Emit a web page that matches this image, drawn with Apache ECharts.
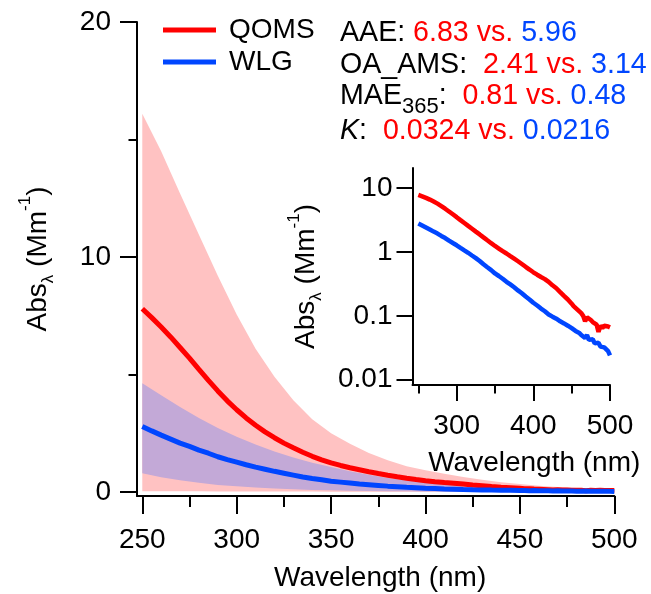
<!DOCTYPE html>
<html><head><meta charset="utf-8">
<script src="https://cdn.jsdelivr.net/npm/echarts@6/dist/echarts.min.js"></script>
<style>html,body{margin:0;padding:0;background:#fff}#c{width:651px;height:594px}</style>
</head><body><div id="c"></div>
<script>
// ---- data ----
const wavelength = [250,255,260,265,270,275,280,285,290,295,300,305,310,315,320,325,330,335,340,345,350,355,360,365,370,375,380,385,390,395,400,405,410,415,420,425,430,435,440,445,450,452.5,455,457.5,460,462.5,465,467.5,470,472.5,475,477.5,480,482.5,485,487.5,490,492.5,495,497.5,500];
const qomsMean = [7.8,7.42,7.02,6.6,6.15,5.7,5.22,4.75,4.3,3.88,3.5,3.15,2.84,2.56,2.31,2.08,1.88,1.69,1.52,1.37,1.24,1.13,1.03,0.945,0.86,0.785,0.715,0.648,0.585,0.53,0.48,0.44,0.405,0.375,0.34,0.3,0.27,0.235,0.205,0.18,0.155,0.142,0.135,0.125,0.118,0.11,0.1,0.082,0.095,0.09,0.086,0.08,0.076,0.073,0.056,0.07,0.064,0.07,0.066,0.068,0.066];
const wlgMean = [2.79,2.6,2.42,2.25,2.08,1.94,1.78,1.65,1.5,1.38,1.27,1.16,1.06,0.97,0.88,0.8,0.72,0.64,0.575,0.52,0.46,0.42,0.38,0.34,0.31,0.28,0.25,0.225,0.2,0.18,0.16,0.145,0.13,0.118,0.105,0.097,0.09,0.082,0.076,0.07,0.064,0.062,0.058,0.06,0.054,0.05,0.052,0.045,0.05,0.042,0.04,0.043,0.037,0.036,0.038,0.033,0.035,0.032,0.033,0.028,0.024];
const bandWavelength = [250,260,270,280,290,300,310,320,330,340,350,360,370,380,390,400,410,420,430,440,450,460,470,480,490,500];
const qomsUpper = [16.1,14.5,12.7,10.95,9.2,7.55,6.1,4.9,3.9,3.1,2.5,2.05,1.66,1.35,1.1,0.93,0.78,0.64,0.52,0.42,0.34,0.27,0.21,0.17,0.14,0.12];
const qomsLower = [0.03,0.03,0.03,0.03,0.025,0.025,0.02,0.02,0.02,0.02,0.015,0.015,0.015,0.015,0.01,0.01,0.01,0.01,0.01,0.01,0.008,0.008,0.008,0.008,0.008,0.008];
const wlgUpper = [4.63,4.12,3.62,3.15,2.72,2.35,2.02,1.72,1.47,1.25,1.06,0.88,0.73,0.6,0.49,0.41,0.34,0.28,0.23,0.19,0.16,0.13,0.11,0.09,0.075,0.06];
const wlgLower = [0.8,0.63,0.5,0.39,0.3,0.24,0.19,0.15,0.12,0.09,0.07,0.055,0.045,0.036,0.03,0.025,0.021,0.018,0.015,0.013,0.011,0.01,0.009,0.008,0.007,0.006];
const seriesNames = ['QOMS','WLG'];
const mainXTicks = [250,300,350,400,450,500];
const mainXMinor = [275,325,375,425,475];
const mainYTicks = [0,10,20];
const mainYMinor = [5,15];
const insetXTicks = [300,400,500];
const insetXMinor = [250,350,450];
const insetYTicks = [0.01,0.1,1,10];
const statLabels = ['AAE','OA_AMS','MAE','K'];
const statSub = ['','','365',''];
const qomsStats = ['6.83','2.41','0.81','0.0324'];
const wlgStats = ['5.96','3.14','0.48','0.0216'];

// ---- styling ----
const F = '"Liberation Sans", Arial, sans-serif';
const RED = '#FF0000', BLUE = '#0046FF', PINK = '#FFC2C2', PURPLE = '#C3A9D7';
const black = '#000';
const lineSt = {color: black, width: 2};
const pairs = (xs, ys) => xs.map((x, i) => [x, ys[i]]);

const nameRich = {
  m: {fontSize: 28, fontFamily: F, color: black, lineHeight: 28},
  sub: {fontSize: 17, fontFamily: F, color: black, lineHeight: 17, padding: [20, 0, 0, 0]},
  sup: {fontSize: 17, fontFamily: F, color: black, lineHeight: 17, padding: [0, 0, 25, 0]}
};
const yName = '{m|Abs}{sub|λ}{m| (Mm}{sup|-1}{m|)}';

function xAxisPair(grid, min, ticks, minor, lenMaj, lenMin, margin, nameGap, namePad) {
  return [
    {gridIndex: grid, type: 'value', min: min, max: 500, position: 'bottom',
     axisLine: {show: true, onZero: false, lineStyle: lineSt},
     axisTick: {show: true, customValues: ticks, length: lenMaj, lineStyle: lineSt},
     axisLabel: {show: true, customValues: ticks, fontSize: 28, fontFamily: F, color: black, margin: margin},
     splitLine: {show: false},
     name: 'Wavelength (nm)', nameLocation: 'middle', nameGap: nameGap,
     nameTextStyle: {fontSize: 28, fontFamily: F, color: black, padding: namePad}},
    {gridIndex: grid, type: 'value', min: min, max: 500, position: 'bottom',
     axisLine: {show: false, onZero: false},
     axisTick: {show: true, customValues: minor, length: lenMin, lineStyle: lineSt},
     axisLabel: {show: false}, splitLine: {show: false}}
  ];
}

const xAxes = [].concat(
  xAxisPair(0, 247.2, mainXTicks, mainXMinor, 18, 11, 30, 68, [0, 0, 0, 9]),
  xAxisPair(1, 242.4, insetXTicks, insetXMinor, 16, 8.5, 27, 64, [0, 0, 0, 46])
);

const yAxes = [
  {gridIndex: 0, type: 'value', min: -0.17, max: 20, position: 'left',
   axisLine: {show: true, onZero: false, lineStyle: lineSt},
   axisTick: {show: true, customValues: mainYTicks, length: 17, lineStyle: lineSt},
   axisLabel: {show: true, customValues: mainYTicks, fontSize: 28, fontFamily: F, color: black, margin: 26},
   splitLine: {show: false},
   name: yName, nameLocation: 'middle', nameGap: 85,
   nameTextStyle: {rich: nameRich}},
  {gridIndex: 0, type: 'value', min: -0.17, max: 20, position: 'left',
   axisLine: {show: false, onZero: false},
   axisTick: {show: true, customValues: mainYMinor, length: 8.5, lineStyle: lineSt},
   axisLabel: {show: false}, splitLine: {show: false}},
  {gridIndex: 1, type: 'log', logBase: 10, min: 0.00826, max: 20.6, position: 'left',
   axisLine: {show: true, onZero: false, lineStyle: lineSt},
   axisTick: {show: true, customValues: insetYTicks, length: 16, lineStyle: lineSt},
   axisLabel: {show: true, customValues: insetYTicks, fontSize: 28, fontFamily: F, color: black, margin: 20},
   splitLine: {show: false},
   name: yName, nameLocation: 'middle', nameGap: 92,
   nameTextStyle: {rich: nameRich}}
];

// shaded band drawn as one polygon through the axis scales
const bandSeries = (lower, upper, color) => ({
  type: 'custom', xAxisIndex: 0, yAxisIndex: 0, silent: true, z: 1, clip: true,
  data: bandWavelength.map((x, i) => [x, lower[i], upper[i]]),
  encode: {x: 0, y: [1, 2]},
  renderItem: (params, api) => {
    if (params.dataIndex !== 0) return null;
    const top = [], bot = [];
    for (let i = 0; i < bandWavelength.length; i++) {
      top.push(api.coord([bandWavelength[i], upper[i]]));
      bot.push(api.coord([bandWavelength[i], lower[i]]));
    }
    return {type: 'polygon', shape: {points: top.concat(bot.reverse())}, style: {fill: color}};
  }
});

const meanSeries = (name, ys, color, xi, yi, w) => ({
  name: name, type: 'line', xAxisIndex: xi, yAxisIndex: yi, data: pairs(wavelength, ys),
  symbol: 'none', color: color, lineStyle: {color: color, width: w}, z: 3
});

const series = [
  bandSeries(qomsLower, qomsUpper, PINK),
  bandSeries(wlgLower, wlgUpper, PURPLE),
  meanSeries(seriesNames[0], qomsMean, RED, 0, 0, 5),
  meanSeries(seriesNames[1], wlgMean, BLUE, 0, 0, 5),
  meanSeries(seriesNames[0], qomsMean, RED, 2, 2, 4.5),
  meanSeries(seriesNames[1], wlgMean, BLUE, 2, 2, 4.5)
];

// annotation lines
const AF = 28.6;
const statRich = {
  k: {fontSize: AF, fontFamily: F, fill: black, lineHeight: 29},
  ki: {fontSize: AF, fontFamily: F, fontStyle: 'italic', fill: black, lineHeight: 29},
  s: {fontSize: 22, fontFamily: F, fill: black, lineHeight: 22, padding: [22, 0, 0, 0]},
  r: {fontSize: AF, fontFamily: F, fill: RED, lineHeight: 29},
  b: {fontSize: AF, fontFamily: F, fill: BLUE, lineHeight: 29}
};
const statY = [33, 65, 96, 131];
const graphics = statLabels.map((lab, i) => {
  const head = lab === 'K' ? '{ki|K}' : '{k|' + lab + '}';
  const sub = statSub[i] ? '{s|' + statSub[i] + '}' : '';
  const gap = i === 0 ? ' ' : '  ';
  return {
    type: 'text', x: 340, y: statY[i], silent: true, z: 10,
    style: {
      text: head + sub + '{k|:' + gap + '}{r|' + qomsStats[i] + ' vs. }{b|' + wlgStats[i] + '}',
      rich: statRich, verticalAlign: 'middle', align: 'left', font: AF + 'px ' + F, fill: black
    }
  };
});

const chart = echarts.init(document.getElementById('c'), null, {renderer: 'canvas'});
chart.setOption({
  animation: false,
  backgroundColor: '#fff',
  grid: [
    {left: 137, right: 36.7, top: 22, bottom: 98, containLabel: false, outerBoundsMode: 'none'},
    {left: 412.5, right: 41, top: 168, bottom: 209, containLabel: false, outerBoundsMode: 'none'}
  ],
  legend: {
    data: seriesNames, orient: 'vertical', left: 163, top: 14, padding: 0, itemGap: 0,
    itemWidth: 53, itemHeight: 5, icon: 'rect', selectedMode: false,
    textStyle: {fontSize: 28, fontFamily: F, color: black, lineHeight: 32, padding: [0, 0, 0, 8]}
  },
  xAxis: xAxes,
  yAxis: yAxes,
  series: series,
  graphic: graphics
});
</script></body></html>
